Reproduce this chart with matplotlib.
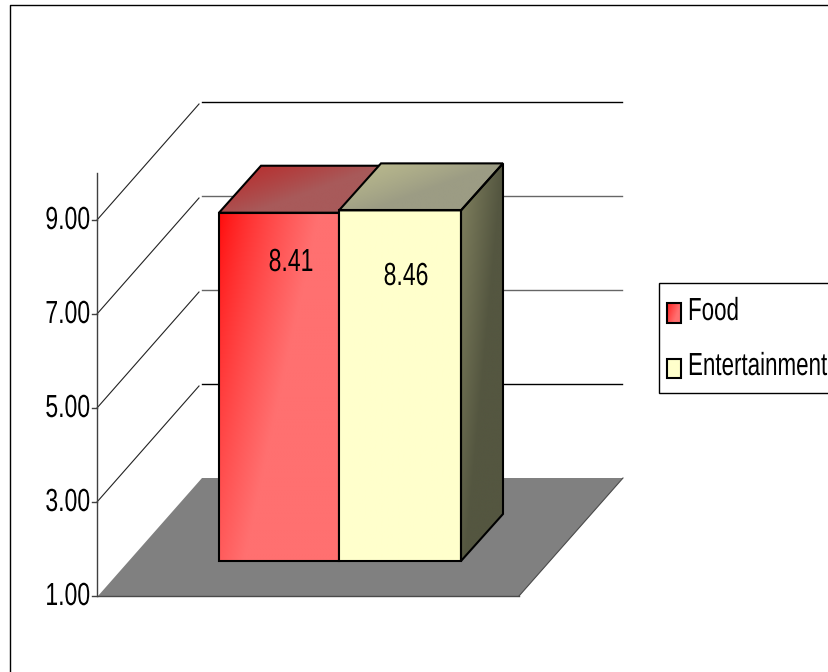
import numpy as np
import matplotlib
matplotlib.use('Agg')
import matplotlib.pyplot as plt
from matplotlib.patches import Polygon, Rectangle
from matplotlib.patheffects import AbstractPathEffect
from matplotlib.transforms import Affine2D

plt.rcParams['font.family'] = ['Liberation Sans', 'DejaVu Sans']

# Chart data
series_names = ['Food', 'Entertainment']
series_values = [8.41, 8.46]
tick_values = [1, 3, 5, 7, 9]
tick_labels = ['1.00', '3.00', '5.00', '7.00', '9.00']
axis_top = 10

# Scale of the value axis and the fake 3D projection
UNIT = 47.0          # pixels per value unit
Y0 = 596             # pixel row of value 1
FLOOR_DX, FLOOR_DV = 104, 118 / UNIT
BAR_DX, BAR_DV = 42, 47 / UNIT
BASE_DV = 35 / UNIT
SQUEEZE = 0.72       # the reference text is horizontally condensed
FONT = 23


def v(py):
    # pixel row to value axis position
    return 1 + (Y0 - py) / UNIT


class Squeeze(AbstractPathEffect):
    # condense glyphs horizontally around the text anchor
    def __init__(self, anchor_px, sx=SQUEEZE):
        super().__init__()
        self.anchor_px = anchor_px
        self.sx = sx

    def draw_path(self, renderer, gc, tpath, affine, rgbFace=None):
        squeezed = affine + Affine2D().translate(-self.anchor_px, 0).scale(self.sx, 1).translate(self.anchor_px, 0)
        renderer.draw_path(gc, tpath, squeezed, rgbFace)


def label(ax, x, y, s, ha, sx=SQUEEZE):
    ax.text(x, y, s, ha=ha, va='center', fontsize=FONT, color='k', zorder=8,
            path_effects=[Squeeze(x, sx)])


def gradient(ax, corners, c_from, c_to, fx=1.0, fy=0.0, power=1.0, z=3):
    # fill a polygon with a linear gradient, clipped to its outline
    corners = np.array(corners)
    x0, x1 = corners[:, 0].min(), corners[:, 0].max()
    y0, y1 = corners[:, 1].min(), corners[:, 1].max()
    gx, gy = np.meshgrid(np.linspace(0, 1, 200), np.linspace(0, 1, 200))
    t = np.clip(gx * fx + gy * fy, 0, 1) ** power
    rgb = np.array(matplotlib.colors.to_rgb(c_from)) * (1 - t[..., None]) \
        + np.array(matplotlib.colors.to_rgb(c_to)) * t[..., None]
    im = ax.imshow(rgb, extent=[x0, x1, y0, y1], origin='upper', aspect='auto',
                   zorder=z, interpolation='bilinear')
    im.set_clip_path(Polygon(corners, closed=True, transform=ax.transData))


fig = plt.figure(figsize=(8.29, 6.72), dpi=100)
ax = fig.add_axes([0, 0, 1, 1])
ax.axis('off')

# Outer chart border
ax.plot([10, 10, 829], [v(672), v(5), v(5)], color='k', lw=1.0, zorder=1)

# Floor
xl, xr = 98, 519
ax.add_patch(Polygon([(xl, 1), (xr, 1), (xr + FLOOR_DX, 1 + FLOOR_DV), (xl + FLOOR_DX, 1 + FLOOR_DV)],
                     closed=True, fc='#808080', ec='none', zorder=1))
ax.plot([xl, xr], [1, 1], color='#4a4a4a', lw=1.0, zorder=1)
ax.plot([xr, xr + FLOOR_DX], [1, 1 + FLOOR_DV], color='#4a4a4a', lw=0.8, zorder=1)

# Gridlines on the walls
grid_cols = ['k', '#666666', '#666666', 'k']
for tv, col in zip(tick_values[1:], grid_cols):
    ax.plot([97, 97 + FLOOR_DX - 2], [tv, tv + FLOOR_DV - 2 / UNIT], color='#222222', lw=0.8, zorder=1)
    ax.plot([97 + FLOOR_DX + 1, 622], [tv + FLOOR_DV, tv + FLOOR_DV], color=col, lw=1.0, zorder=1)

# Value axis
ax.plot([97, 97], [1, axis_top], color='#404040', lw=1.0, zorder=2)
for tv, lab in zip(tick_values, tick_labels):
    ax.plot([92, 97], [tv, tv], color='#404040', lw=1.0, zorder=2)
    label(ax, 90, tv - 1 / UNIT, lab, 'right')

# Bars
bar_left = [219, 339]
bar_width = [120, 122]
front_cols = [('#ff0808', '#ff7070'), ('#ffffcc', '#ffffcc')]
top_cols = [('#b82c2c', '#a85a5a'), ('#bcbc8e', '#9c9c84')]
side_cols = ('#828260', '#545640')
label_pos = [(291, 263), (406, 277)]

for i, val in enumerate(series_values):
    x0, x1 = bar_left[i], bar_left[i] + bar_width[i]
    base = 1 + BASE_DV
    top = val + BASE_DV
    front = [(x0, base), (x1, base), (x1, top), (x0, top)]
    roof = [(x0, top), (x1, top), (x1 + BAR_DX, top + BAR_DV), (x0 + BAR_DX, top + BAR_DV)]
    side = [(x1, base), (x1 + BAR_DX, base + BAR_DV), (x1 + BAR_DX, top + BAR_DV), (x1, top)]
    z = 3 + i
    if i == 1:
        gradient(ax, side, side_cols[0], side_cols[1], fx=1.0, fy=0.9, z=z)
    gradient(ax, roof, top_cols[i][0], top_cols[i][1], fx=1.0, fy=0.8, power=1.3, z=z)
    gradient(ax, front, front_cols[i][0], front_cols[i][1], fx=1.2, fy=0.75, power=0.75, z=z)
    for poly in (roof, side, front):
        if poly is side and i == 0:
            continue
        ax.add_patch(Polygon(poly, closed=True, fc='none', ec='k', lw=1.5, zorder=z + 0.5))
    label(ax, label_pos[i][0], v(label_pos[i][1]), '%.2f' % val, 'center')

# Legend
ax.add_patch(Rectangle((659, v(393)), 175, 110 / UNIT, fc='white', ec='k', lw=1.0, zorder=6))
swatch_y = [(303, 323), (359, 378)]
text_y = [312, 367]
swatch_cols = [('#ff2020', '#ff7070'), ('#ffffcc', '#ffffcc')]
for i, name in enumerate(series_names):
    py0, py1 = swatch_y[i]
    sw = [(667, v(py1)), (681, v(py1)), (681, v(py0)), (667, v(py0))]
    gradient(ax, sw, swatch_cols[i][0], swatch_cols[i][1], fx=1.0, fy=0.5, z=7)
    ax.add_patch(Polygon(sw, closed=True, fc='none', ec='k', lw=1.5, zorder=7.5))
    label(ax, 688, v(text_y[i]), name, 'left', sx=0.70)

ax.set_xlim(0, 829)
ax.set_ylim(v(672), v(0))

fig.savefig('out.png', dpi=100)
